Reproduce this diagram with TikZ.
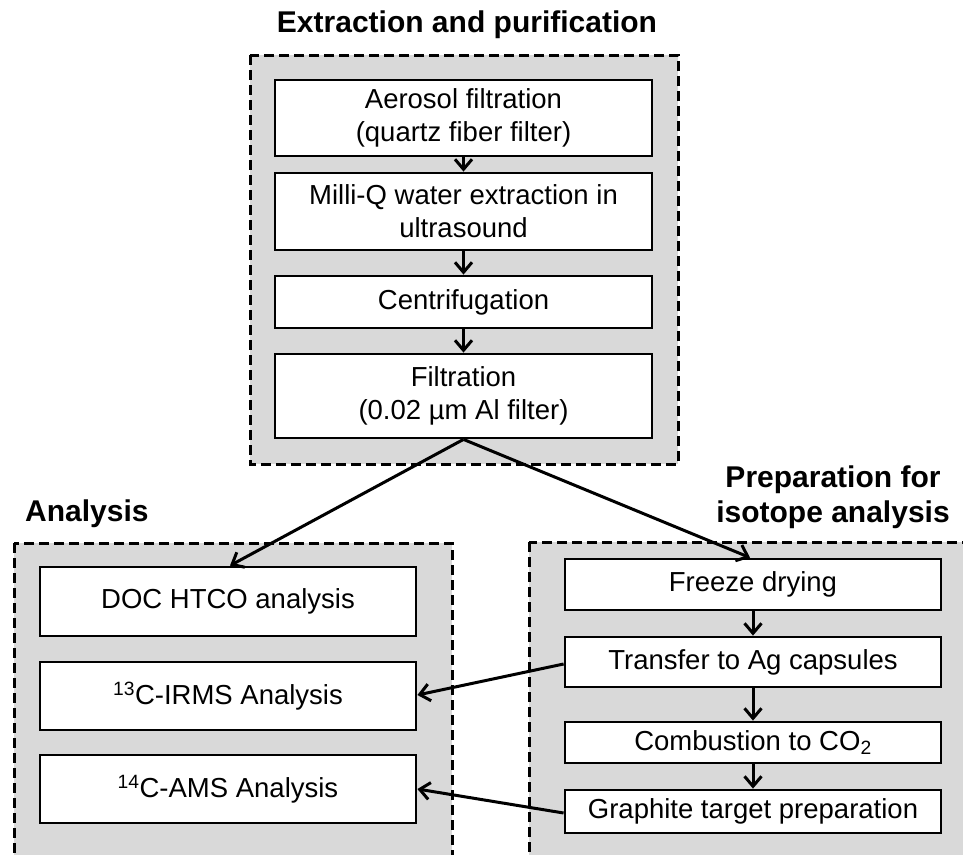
\documentclass[tikz,border=0pt]{standalone}
\usepackage{fontspec}
\setmainfont{Liberation Sans}
\usetikzlibrary{arrows.meta}
\definecolor{panelgray}{HTML}{D9D9D9}
\tikzset{
  panel/.style={draw, dash pattern=on 10pt off 5pt, line width=3pt, fill=panelgray},
  stepbox/.style={draw, line width=2.8pt, fill=white, inner sep=0pt, align=center,
    font=\fontsize{27.5}{33}\selectfont},
  ttl/.style={font=\bfseries\fontsize{30}{35}\selectfont, align=center, inner sep=0pt},
  arr/.style={line width=3pt, -{Straight Barb[length=10pt,width=17pt]}},
}
\begin{document}
\begin{tikzpicture}[x=1pt,y=-1pt]
\useasboundingbox (0,0) rectangle (963,854);
\clip (0,0) rectangle (963,854);
% panels
\draw[panel] (250,55) rectangle (678,464);
\draw[panel] (14,543) rectangle (452,880);
\draw[panel] (529,542) rectangle (990,880);
% titles
\node[ttl] (t1) at (467,25) {Extraction and purification};
\node[ttl, anchor=west] (t2) at (25,514) {Analysis};
\node[ttl] (t3) at (833,497) {Preparation for\\isotope analysis};
% top boxes
\node[stepbox, minimum width=377pt, minimum height=76pt] (b1) at (463.5,118) {Aerosol filtration\\(quartz fiber filter)};
\node[stepbox, minimum width=377pt, minimum height=77pt] (b2) at (463.5,211.5) {Milli-Q water extraction in\\ultrasound};
\node[stepbox, minimum width=377pt, minimum height=52pt] (b3) at (463.5,302) {Centrifugation};
\node[stepbox, minimum width=377pt, minimum height=84pt] (b4) at (463.5,396) {Filtration\\(0.02 µm Al filter)};
% analysis boxes
\node[stepbox, minimum width=376pt, minimum height=69pt] (doc) at (228,601.5) {DOC HTCO analysis};
\node[stepbox, minimum width=376pt, minimum height=68pt] (irms) at (228,696) {\textsuperscript{13}C-IRMS Analysis};
\node[stepbox, minimum width=376pt, minimum height=68pt] (ams) at (228,789) {\textsuperscript{14}C-AMS Analysis};
% preparation boxes
\node[stepbox, minimum width=376pt, minimum height=51pt] (fd) at (753,584.5) {Freeze drying};
\node[stepbox, minimum width=376pt, minimum height=50pt] (tr) at (753,662) {Transfer to Ag capsules};
\node[stepbox, minimum width=376pt, minimum height=41pt] (cb) at (753,742.5) {Combustion to CO\textsubscript{2}};
\node[stepbox, minimum width=376pt, minimum height=43pt] (gr) at (753,811.5) {Graphite target preparation};
% arrows
\draw[arr] (b1) -- (b2);
\draw[arr] (b2) -- (b3);
\draw[arr] (b3) -- (b4);
\draw[arr] (b4.south) -- ([xshift=2pt]doc.north);
\draw[arr] (b4.south) -- ([xshift=-3pt]fd.north);
\draw[arr] (fd) -- (tr);
\draw[arr] (tr) -- (cb);
\draw[arr] (cb) -- (gr);
\draw[arr] ([yshift=-2pt]tr.west) -- ([yshift=1pt]irms.east);
\draw[arr] ([yshift=-1.5pt]gr.west) -- (ams.east);
\end{tikzpicture}
\end{document}
